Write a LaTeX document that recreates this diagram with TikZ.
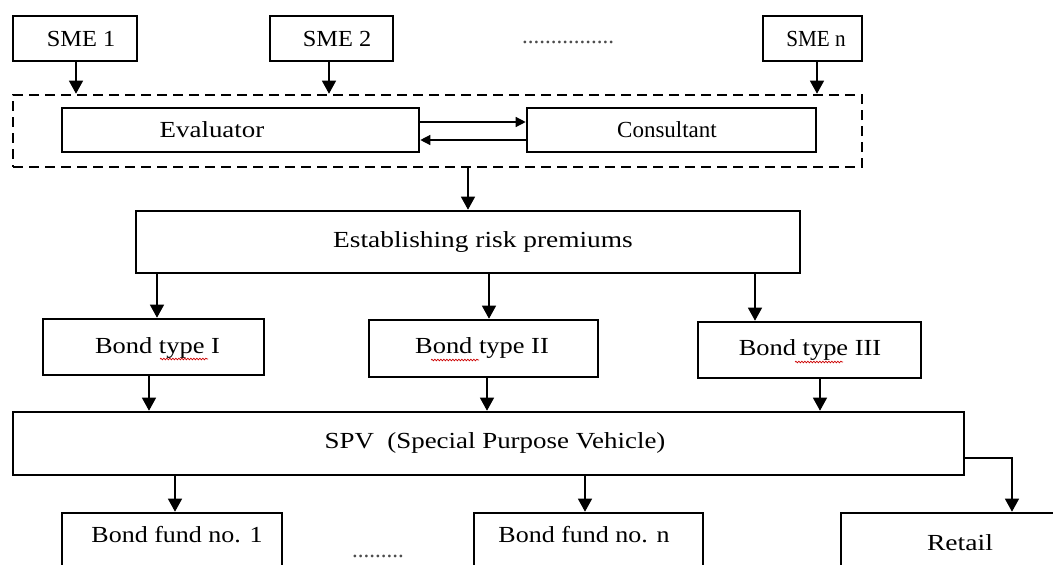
\documentclass[tikz,border=0pt]{standalone}
\usepackage{fontspec}
\setmainfont{Liberation Serif}
\usetikzlibrary{arrows.meta,decorations.pathmorphing}
\newcommand{\wtext}[2]{\scalebox{#1}[1]{#2}}
\begin{document}
\begin{tikzpicture}[x=1pt,y=-1pt,
  box/.style={draw,line width=2.6pt,inner sep=0pt},
  grp/.style={draw,line width=2.6pt,dash pattern=on 10pt off 6pt,inner sep=0pt},
  txt/.style={font=\fontsize{23}{27}\selectfont,inner sep=0pt},
  arr/.style={line width=1.3pt,-{Triangle[length=13pt,width=14pt]}},
  sarr/.style={line width=1.3pt,-{Triangle[length=10pt,width=10pt]}},
  wavy/.style={draw=red!80!black,line width=0.7pt,decorate,decoration={snake,segment length=3pt,amplitude=0.8pt}}]
\useasboundingbox (0,0) rectangle (1053,565);
\clip (0,0) rectangle (1053,565);
% top row
\node[box,minimum width=124pt,minimum height=45pt] (sme1) at (75,38.5) {};
\node[txt] (t1) at (81,38.5) {\wtext{1.06}{SME 1}};
\node[box,minimum width=123pt,minimum height=45pt] (sme2) at (331.5,38.5) {};
\node[txt] (t2) at (337,38.5) {\wtext{1.06}{SME 2}};
\node[box,minimum width=99pt,minimum height=45pt] (smen) at (812.5,38.5) {};
\node[txt] (tn) at (816,38.5) {\wtext{0.92}{SME n}};
\node[txt,anchor=base,text=black!70] (dots1) at (568,43) {................};
% group
\node[grp,minimum width=849pt,minimum height=72pt] (grp) at (437.5,131) {};
\node[box,minimum width=357pt,minimum height=44pt] (ev) at (240.5,130) {};
\node[txt] (tev) at (212,130) {\wtext{1.17}{Evaluator}};
\node[box,minimum width=289pt,minimum height=44pt] (co) at (671.5,130) {};
\node[txt] (tco) at (667,130) {\wtext{1.0}{Consultant}};
\draw[arr] (sme1.south -| 76,0) -- (grp.north -| 76,0);
\draw[arr] (sme2.south -| 329,0) -- (grp.north -| 329,0);
\draw[arr] (smen.south -| 817,0) -- (grp.north -| 817,0);
\draw[sarr] (ev.east |- 0,122) -- (co.west |- 0,122);
\draw[sarr] (co.west |- 0,140) -- (ev.east |- 0,140);
% establishing
\node[box,minimum width=664pt,minimum height=62pt] (est) at (468,242) {};
\node[txt] (test) at (483,242) {\wtext{1.19}{Establishing risk premiums}};
\draw[arr] (grp.south -| 468,0) -- (est.north -| 468,0);
% bonds
\node[box,minimum width=221pt,minimum height=56pt] (b1) at (153.5,347) {};
\node[txt] (tb1) at (157.5,348) {\wtext{1.15}{Bond type I}};
\node[box,minimum width=229pt,minimum height=57pt] (b2) at (483.5,348.5) {};
\node[txt] (tb2) at (482,348) {\wtext{1.15}{Bond type II}};
\node[box,minimum width=223pt,minimum height=56pt] (b3) at (809.5,350) {};
\node[txt] (tb3) at (810,350) {\wtext{1.15}{Bond type III}};
\draw[wavy] (160,359) -- (208,359);
\draw[wavy] (431,360) -- (479,360);
\draw[wavy] (795,362) -- (843,362);
\draw[arr] (est.south -| 157,0) -- (b1.north -| 157,0);
\draw[arr] (est.south -| 489,0) -- (b2.north -| 489,0);
\draw[arr] (est.south -| 755,0) -- (b3.north -| 755,0);
% SPV
\node[box,minimum width=951pt,minimum height=63pt] (spv) at (488.5,443.5) {};
\node[txt] (tspv) at (495,443) {\wtext{1.17}{SPV\ \ (Special Purpose Vehicle)}};
\draw[arr] (b1.south -| 149,0) -- (spv.north -| 149,0);
\draw[arr] (b2.south -| 487,0) -- (spv.north -| 487,0);
\draw[arr] (b3.south -| 820,0) -- (spv.north -| 820,0);
% bottom
\node[box,minimum width=220pt,minimum height=70pt] (f1) at (172,548) {};
\node[txt] (tf1) at (177,535) {\wtext{1.13}{Bond fund no. 1}};
\node[box,minimum width=229pt,minimum height=70pt] (fn) at (588.5,548) {};
\node[txt] (tfn) at (584,535) {\wtext{1.13}{Bond fund no. n}};
\node[box,minimum width=229pt,minimum height=70pt] (ret) at (955.5,548) {};
\node[txt] (tret) at (960,543) {\wtext{1.2}{Retail}};
\node[txt,anchor=base,text=black!70] (dots2) at (378,557) {.........};
\draw[arr] (spv.south -| 175,0) -- (f1.north -| 175,0);
\draw[arr] (spv.south -| 585,0) -- (fn.north -| 585,0);
\coordinate (rt) at (1012,458);
\draw[arr] (spv.east |- rt) -- (rt) -- (ret.north -| rt);
\end{tikzpicture}
\end{document}
